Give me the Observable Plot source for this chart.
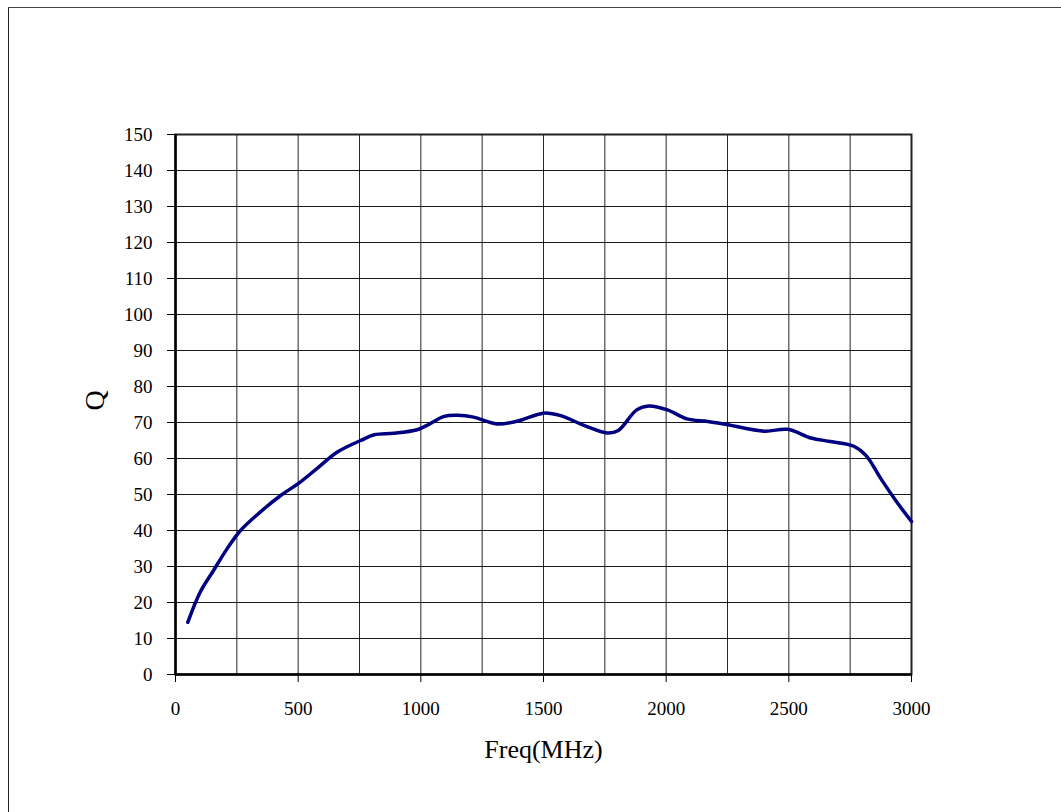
<!DOCTYPE html>
<html>
<head>
<meta charset="utf-8">
<script src="https://cdn.jsdelivr.net/npm/d3@7"></script>
<script src="https://cdn.jsdelivr.net/npm/@observablehq/plot@0.6"></script>
<style>
  html, body { margin: 0; padding: 0; background: #fff; overflow: hidden; }
  #wrap { position: relative; width: 1061px; height: 812px; }
  #border { position: absolute; left: 8px; top: 7px; width: 1100px; height: 900px;
            border-left: 1.5px solid #222; border-top: 1.5px solid #444; pointer-events: none; }
  #chart { position: absolute; left: 0; top: 0; }
</style>
</head>
<body>
<div id="wrap"><div id="border"></div><div id="chart"></div></div>
<script>
const freq = [50, 100, 155, 210, 265, 345, 430, 500, 580, 660, 755, 810, 890, 985, 1025, 1095, 1150, 1215, 1310, 1395, 1500, 1570, 1665, 1760, 1805, 1880, 1930, 2005, 2085, 2170, 2250, 2400, 2495, 2590, 2670, 2765, 2815, 2875, 2940, 3000];
const q    = [14.5, 22.8, 28.9, 34.9, 40.0, 45.1, 49.8, 53.0, 57.4, 61.8, 65.0, 66.6, 67.0, 68.0, 69.2, 71.7, 72.0, 71.5, 69.6, 70.4, 72.6, 71.9, 69.2, 67.1, 67.8, 73.5, 74.6, 73.5, 71.0, 70.3, 69.4, 67.6, 68.1, 65.7, 64.7, 63.4, 60.8, 54.4, 47.9, 42.5];
const xTicks = [0, 500, 1000, 1500, 2000, 2500, 3000];
const xGrid = d3.range(0, 3001, 250);
const yTicks = d3.range(0, 151, 10);
const xLabel = "Freq(MHz)";
const yLabel = "Q";

const data = freq.map((f, i) => ({f, q: q[i]}));

const chart = Plot.plot({
  width: 1061,
  height: 812,
  marginLeft: 175,
  marginRight: 150,
  marginTop: 134,
  marginBottom: 138,
  style: {fontFamily: "'Liberation Serif', 'DejaVu Serif', serif", background: "transparent", color: "#000"},
  x: {domain: [0, 3000]},
  y: {domain: [0, 150]},
  marks: [
    Plot.gridX(xGrid, {stroke: "#000", strokeOpacity: 0.85, strokeWidth: 1}),
    Plot.gridY(yTicks, {stroke: "#000", strokeOpacity: 0.9, strokeWidth: 1}),
    Plot.frame({stroke: "#222", strokeWidth: 2}),
    Plot.ruleY([0], {stroke: "#000", strokeWidth: 2.5}),
    Plot.ruleX([0], {stroke: "#000", strokeWidth: 2.5}),
    Plot.axisY(yTicks, {tickSize: 8, tickPadding: 15, fontSize: 19, label: null, stroke: "#000", tickFormat: d => String(d)}),
    Plot.axisX(xTicks, {tickSize: 8, tickPadding: 19, fontSize: 19, label: null, stroke: "#000", tickFormat: d => String(d)}),
    Plot.line(data, {x: "f", y: "q", curve: "catmull-rom", stroke: "#000080", strokeWidth: 3.5}),
    Plot.text([yLabel], {frameAnchor: "left", dx: -80, dy: 6, rotate: -90, fontSize: 28, fill: "#000"}),
    Plot.text([xLabel], {frameAnchor: "bottom", dy: 83, fontSize: 26, fill: "#000"})
  ]
});
document.getElementById("chart").appendChild(chart);
</script>
</body>
</html>
